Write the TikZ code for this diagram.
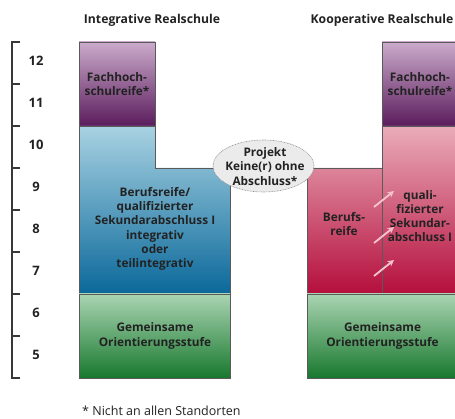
\documentclass[tikz,border=0pt]{standalone}
\usepackage{fontspec}
\setmainfont{Open Sans}
\usetikzlibrary{arrows.meta,shapes.geometric}
\definecolor{txt}{HTML}{222222}
\definecolor{edge}{HTML}{5A5A5A}
\definecolor{purT}{HTML}{CBABCB}
\definecolor{purB}{HTML}{5A1C5C}
\definecolor{bluT}{HTML}{A8D2E2}
\definecolor{bluB}{HTML}{0A689A}
\definecolor{grnT}{HTML}{AAD4B2}
\definecolor{grnB}{HTML}{18782E}
\definecolor{redT}{HTML}{EAACBA}
\definecolor{redB}{HTML}{B40E3C}
\definecolor{arr}{HTML}{F3C3CD}
\tikzset{
  lbl/.style={text=txt, align=center, font=\bfseries\fontsize{11.8}{14.2}\selectfont, inner sep=0pt},
  ttl/.style={text=txt, font=\bfseries\fontsize{12.2}{14}\selectfont, inner sep=0pt},
  num/.style={text=txt, font=\bfseries\fontsize{13}{16}\selectfont, inner sep=0pt},
  box/.style={draw=edge, line width=0.7pt},
  scalebar/.style={draw=txt!90, line width=1.6pt},
  upar/.style={draw=arr, line width=1.8pt, -{Stealth[length=6.5pt,width=6.5pt]}},
  oval/.style={ellipse, draw=black!45, fill=black!8, line width=0.6pt, dash pattern=on 0.8pt off 0.8pt, minimum width=101pt, minimum height=52pt, inner sep=0pt}
}
\begin{document}
\begin{tikzpicture}[x=1pt,y=-1pt]
\clip (0,0) rectangle (455,419);
\fill[white] (0,0) rectangle (455,419);
% scale bar
\draw[scalebar] (20,42) -- (12,42) -- (12,378) -- (20,378);
\foreach \t in {84,126,168,210,252,294,336} \draw[scalebar] (12,\t) -- (20,\t);
\foreach \g/\y in {12/61,11/103,10/145,9/187,8/229,7/271,6/313,5/355}
  \node[num] (g\g) at (36,\y) {\g};
% titles
\node[ttl] (t1) at (152,20) {Integrative Realschule};
\node[ttl] (t2) at (382,20) {Kooperative Realschule};
% left column
\shade[top color=purT, bottom color=purB] (79,42) rectangle (155,126);
\draw[box] (79,42) rectangle (155,126);
\shade[top color=bluT, bottom color=bluB] (79,126) -- (155,126) -- (155,168) -- (230,168) -- (230,294) -- (79,294) -- cycle;
\draw[box] (79,126) -- (155,126) -- (155,168) -- (230,168) -- (230,294) -- (79,294) -- cycle;
\shade[top color=grnT, bottom color=grnB] (79,294) rectangle (230,378);
\draw[box] (79,294) rectangle (230,378);
% right column
\shade[top color=purT, bottom color=purB] (382,42) rectangle (458,126);
\draw[box] (382,42) rectangle (458,126);
\shade[top color=redT, bottom color=redB] (382,126) -- (458,126) -- (458,294) -- (307,294) -- (307,168) -- (382,168) -- cycle;
\draw[box] (382,126) -- (458,126) -- (458,294) -- (307,294) -- (307,168) -- (382,168) -- cycle;
\draw[box] (382,168) -- (382,294);
\shade[top color=grnT, bottom color=grnB] (307,294) rectangle (458,378);
\draw[box] (307,294) rectangle (458,378);
% labels
\node[lbl] (fh1) at (117,84) {Fachhoch-\\schulreife*};
\node[lbl] (br1) at (155,229) {Berufsreife/\\qualifizierter\\Sekundarabschluss I\\integrativ\\oder\\teilintegrativ};
\node[lbl] (go1) at (155,336) {Gemeinsame\\Orientierungsstufe};
\node[lbl] (fh2) at (420,84) {Fachhoch-\\schulreife*};
\node[lbl] (br2) at (344,224) {Berufs-\\reife};
\node[lbl] (qs2) at (420,216) {quali-\\fizierter\\Sekundar-\\abschluss I};
\node[lbl] (go2) at (382.5,336) {Gemeinsame\\Orientierungsstufe};
% ellipse
\node[oval] (proj) at (263.5,166) {};
\node[lbl] (projt) at (265,166.5) {Projekt\\Keine(r) ohne\\Abschluss*};
% arrows
\foreach \i/\y in {1/207,2/243,3/276} {
  \coordinate (a\i) at (374,\y);
  \coordinate (b\i) at (394,\y-16);
  \draw[upar] (a\i) -- (b\i);
}
% footnote
\node[text=txt, anchor=west, font=\fontsize{12.5}{14}\selectfont, inner sep=0pt] (fn) at (82,411) {* Nicht an allen Standorten};
\end{tikzpicture}
\end{document}
